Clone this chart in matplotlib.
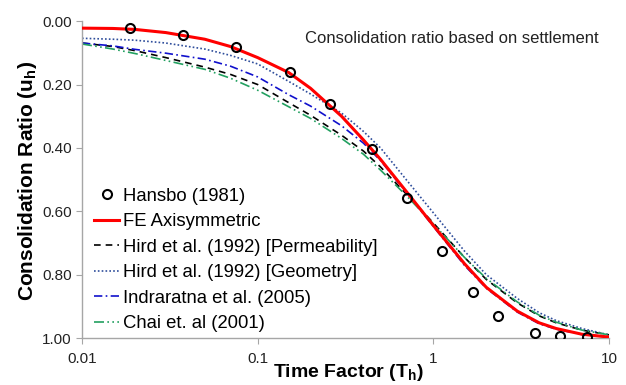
import numpy as np
import matplotlib
matplotlib.use('Agg')
import matplotlib.pyplot as plt
from matplotlib.ticker import FixedLocator, FixedFormatter, FormatStrFormatter, NullLocator

plt.rcParams['font.family'] = ['Liberation Sans', 'DejaVu Sans']

# Hansbo (1981) measured points
t_hansbo = [0.0187, 0.0376, 0.0752, 0.153, 0.258, 0.447, 0.708, 1.12, 1.68, 2.33, 3.78, 5.26, 7.48]
u_hansbo = [0.022, 0.044, 0.082, 0.161, 0.262, 0.404, 0.559, 0.726, 0.856, 0.931, 0.985, 0.995, 0.998]

t_curve = [0.01, 0.015, 0.02, 0.03, 0.05, 0.07, 0.1, 0.15, 0.2, 0.3, 0.4, 0.5, 0.7, 1.0, 1.5, 2, 3, 4, 5, 7, 10]

u_fe = [0.022, 0.023, 0.026, 0.036, 0.057, 0.080, 0.115, 0.162, 0.212, 0.300, 0.375, 0.436, 0.537, 0.645,
        0.765, 0.840, 0.915, 0.952, 0.970, 0.988, 0.997]
u_hird_perm = [0.069, 0.080, 0.093, 0.115, 0.145, 0.168, 0.200, 0.257, 0.297, 0.360, 0.410, 0.460, 0.545, 0.637,
               0.745, 0.815, 0.889, 0.930, 0.952, 0.975, 0.990]
u_hird_geom = [0.054, 0.057, 0.060, 0.069, 0.088, 0.108, 0.135, 0.190, 0.230, 0.290, 0.348, 0.400, 0.500, 0.605,
               0.725, 0.800, 0.875, 0.920, 0.945, 0.970, 0.990]
u_indra = [0.069, 0.078, 0.089, 0.101, 0.120, 0.142, 0.176, 0.232, 0.268, 0.330, 0.385, 0.440, 0.540, 0.648,
           0.770, 0.843, 0.918, 0.955, 0.972, 0.989, 0.997]
u_chai = [0.072, 0.088, 0.102, 0.124, 0.152, 0.180, 0.218, 0.270, 0.307, 0.370, 0.420, 0.470, 0.550, 0.640,
          0.745, 0.812, 0.886, 0.928, 0.950, 0.975, 0.990]

xticks = [0.01, 0.1, 1, 10]
xticklabels = ['0.01', '0.1', '1', '10']
yticks = [0.0, 0.2, 0.4, 0.6, 0.8, 1.0]

fig = plt.figure(figsize=(6.26, 3.85), dpi=100)
ax = fig.add_axes([0.131, 0.122, 0.842, 0.823])

ax.plot(t_hansbo, u_hansbo, 'o', mfc='none', mec='black', ms=6.5, mew=1.5, label='Hansbo (1981)', zorder=5)
ax.plot(t_curve, u_fe, '-', color='#FF0000', lw=2.2, label='FE Axisymmetric', zorder=4)
ax.plot(t_curve, u_hird_perm, color='black', lw=1.2, dashes=(4, 3), label='Hird et al. (1992) [Permeability]')
ax.plot(t_curve, u_hird_geom, color='#2E4D9B', lw=1.2, dashes=(1, 1.3), label='Hird et al. (1992) [Geometry]')
ax.plot(t_curve, u_indra, color='#1010CC', lw=1.2, dashes=(5, 2, 1, 2), label='Indraratna et al. (2005)')
ax.plot(t_curve, u_chai, color='#22A060', lw=1.2, dashes=(6, 2, 1, 2, 1, 2), label='Chai et. al (2001)')

ax.set_xscale('log')
ax.set_xlim(0.01, 10)
ax.set_ylim(1.0, 0.0)
ax.xaxis.set_major_locator(FixedLocator(xticks))
ax.xaxis.set_major_formatter(FixedFormatter(xticklabels))
ax.xaxis.set_minor_locator(NullLocator())
ax.set_yticks(yticks)
ax.yaxis.set_major_formatter(FormatStrFormatter('%.2f'))

for s in ['top', 'right']:
	ax.spines[s].set_visible(False)
for s in ['left', 'bottom']:
	ax.spines[s].set_color('#A6A6A6')
	ax.spines[s].set_linewidth(1.0)
ax.tick_params(axis='both', which='major', direction='out', length=4, color='#A6A6A6',
               labelsize=11, labelcolor='#222222')
ax.tick_params(axis='x', pad=6)

ax.set_xlabel(r'Time Factor (T$_\mathregular{h}$)', fontsize=14, fontweight='bold', va='top')
ax.xaxis.set_label_coords(0.505, -0.075)
ax.set_ylabel(r'Consolidation Ratio (u$_\mathregular{h}$)', fontsize=15, fontweight='bold', va='center')
ax.yaxis.set_label_coords(-0.1025, 0.495)

ax.text(0.423, 0.945, 'Consolidation ratio based on settlement', transform=ax.transAxes,
        fontsize=12, ha='left', va='center', color='#222222')

leg = ax.legend(loc='upper left', bbox_to_anchor=(0.015, 0.486), frameon=False, fontsize=13.3,
                handlelength=1.4, handletextpad=0.2, labelspacing=0.46, borderpad=0.2, borderaxespad=0)

plt.savefig('out.png', dpi=100)
